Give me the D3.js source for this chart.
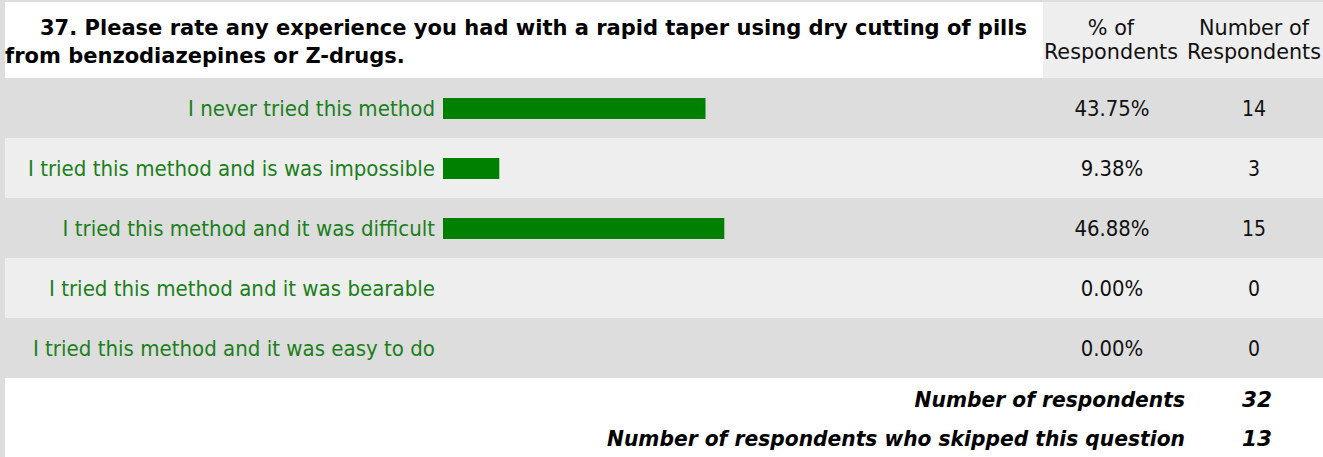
<!DOCTYPE html>
<html><head><meta charset="utf-8">
<script src="https://cdn.jsdelivr.net/npm/d3@7"></script>
<style>body{margin:0;background:#dddddd;overflow:hidden} svg{display:block}</style>
</head><body>
<svg id="c" width="1323" height="457"></svg>
<script>
const titleLines = ["37. Please rate any experience you had with a rapid taper using dry cutting of pills", "from benzodiazepines or Z-drugs."];
const headerPct = ["% of", "Respondents"];
const headerNum = ["Number of", "Respondents"];
const categories = ["I never tried this method", "I tried this method and is was impossible", "I tried this method and it was difficult", "I tried this method and it was bearable", "I tried this method and it was easy to do"];
const percents = [43.75, 9.38, 46.88, 0.00, 0.00];
const counts = [14, 3, 15, 0, 0];
const footerLabels = ["Number of respondents", "Number of respondents who skipped this question"];
const footerValues = [32, 13];

const W = 1323, H = 457;
const svg = d3.select("#c");
const FONT = "'DejaVu Sans Condensed', 'DejaVu Sans', sans-serif";

// condense a group of texts so that the reference text gets target width, keeping font size (height)
function condense(sel, refNode, target) {
  const k = target / refNode.getComputedTextLength();
  sel.each(function () {
    const w = this.getComputedTextLength();
    d3.select(this).attr("textLength", w * k).attr("lengthAdjust", "spacingAndGlyphs");
  });
}

// backgrounds
svg.append("rect").attr("x", 0).attr("y", 0).attr("width", W).attr("height", H).attr("fill", "#dddddd");
svg.append("rect").attr("x", 5).attr("y", 2).attr("width", 1038).attr("height", 76).attr("fill", "#ffffff");
svg.append("rect").attr("x", 1043).attr("y", 2).attr("width", W - 1043).attr("height", 76).attr("fill", "#eeeeee");
svg.append("rect").attr("x", 5).attr("y", 378).attr("width", W - 5).attr("height", H - 378).attr("fill", "#ffffff");

const y = d3.scaleBand().domain(categories).range([78, 378]).padding(0);
const x = d3.scaleLinear().domain([0, 100]).range([443, 1043]);

svg.append("g").selectAll("rect").data(categories).join("rect")
  .attr("x", (d, i) => i % 2 ? 5 : 0)
  .attr("y", d => y(d))
  .attr("width", (d, i) => i % 2 ? W - 5 : W)
  .attr("height", y.bandwidth())
  .attr("fill", (d, i) => i % 2 ? "#eeeeee" : "#dddddd");

// title
const tg = svg.append("g").attr("font-family", FONT).attr("font-weight", "bold").attr("font-size", 22).attr("fill", "#000");
const tt = tg.selectAll("text").data(titleLines).join("text")
  .attr("x", (d, i) => i ? 5 : 40).attr("y", (d, i) => i ? 63 : 35).text(d => d);
condense(tt, tt.nodes()[0], 987);

// headers
const hg = svg.append("g").attr("font-family", FONT).attr("fill", "#111").attr("text-anchor", "middle").attr("font-size", 20.5);
const ht = hg.selectAll("text").data([headerPct[0], headerPct[1], headerNum[0], headerNum[1]]).join("text")
  .attr("x", (d, i) => i < 2 ? 1111 : 1254).attr("y", (d, i) => i % 2 ? 59 : 35).text(d => d);
condense(ht, ht.nodes()[1], 134);

// labels
const lg = svg.append("g").attr("font-family", FONT).attr("fill", "#1b7f1b").attr("text-anchor", "end").attr("font-size", 22);
const labels = lg.selectAll("text").data(categories).join("text")
  .attr("x", 435).attr("y", d => y(d) + y.bandwidth() / 2 + 8).text(d => d);
condense(labels, labels.nodes()[1], 407);

// bars
svg.append("g").selectAll("rect").data(percents).join("rect")
  .attr("x", x(0)).attr("y", (d, i) => y(categories[i]) + 20)
  .attr("width", d => x(d) - x(0)).attr("height", 21).attr("fill", "#008000");

// values
const vg = svg.append("g").attr("font-family", FONT).attr("fill", "#111").attr("text-anchor", "middle").attr("font-size", 21);
const pv = vg.selectAll("text.p").data(percents).join("text").attr("class", "p")
  .attr("x", 1112).attr("y", (d, i) => y(categories[i]) + y.bandwidth() / 2 + 8)
  .text(d => d3.format(".2f")(d) + "%");
condense(pv, pv.nodes()[0], 75);
vg.selectAll("text.n").data(counts).join("text").attr("class", "n")
  .attr("x", 1254).attr("y", (d, i) => y(categories[i]) + y.bandwidth() / 2 + 8)
  .text(d => d);

// footer
const fg = svg.append("g").attr("font-family", "'DejaVu Sans', sans-serif").attr("font-weight", "bold")
  .attr("font-style", "italic").attr("fill", "#000").attr("font-size", 21);
const fBase = [407, 446];
const fl = fg.selectAll("text.l").data(footerLabels).join("text").attr("class", "l")
  .attr("x", 1185).attr("y", (d, i) => fBase[i]).attr("text-anchor", "end").text(d => d);
condense(fl, fl.nodes()[1], 578);
const fv = fg.selectAll("text.v").data(footerValues).join("text").attr("class", "v")
  .attr("x", 1242).attr("y", (d, i) => fBase[i]).text(d => d);
condense(fv, fv.nodes()[0], 30);
</script>
</body></html>
